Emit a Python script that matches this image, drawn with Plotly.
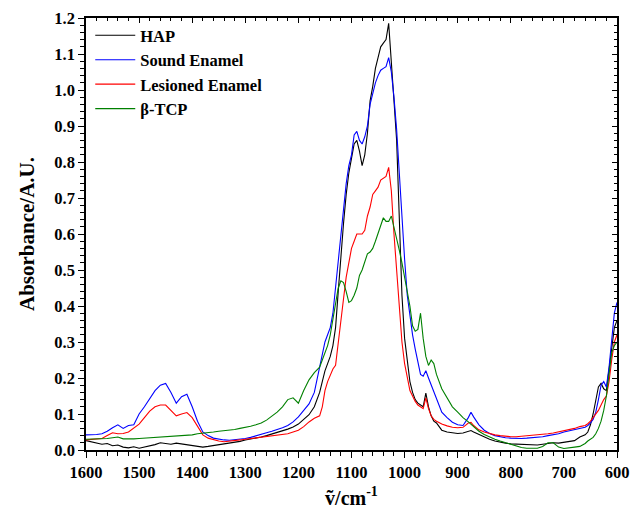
import plotly.graph_objects as go

# Wavenumbers (cm^-1), shared by all spectra
wavenumber = [
    1600, 1590, 1580, 1570, 1560, 1550, 1540, 1530, 1520, 1510,
    1500, 1490, 1480, 1470, 1460, 1450, 1440, 1430, 1420, 1410,
    1400, 1390, 1380, 1370, 1360, 1350, 1340, 1330, 1320, 1310,
    1300, 1290, 1280, 1270, 1260, 1250, 1240, 1230, 1220, 1210,
    1200, 1190, 1180, 1170,
    1160, 1155, 1150, 1145, 1140, 1135, 1130, 1125, 1120, 1115,
    1110, 1105, 1100, 1095, 1090, 1085, 1080, 1075, 1070, 1065,
    1060, 1055, 1050, 1045, 1040, 1035, 1030, 1025, 1020, 1015,
    1010, 1005, 1000, 995, 990, 985, 980, 975, 970, 965,
    960, 955, 950, 945,
    940, 930, 920, 910, 900, 890, 880, 875, 870, 860,
    850, 840, 830, 820, 810, 800, 790, 780, 770, 760,
    750, 740, 730, 720, 710, 700, 690, 680, 670,
    660, 655, 650, 645, 640, 635, 630, 625, 620, 615, 610, 605, 600,
]

hap = [
    0.026, 0.022, 0.018, 0.016, 0.018, 0.012, 0.014, 0.008, 0.006, 0.009,
    0.005, 0.008, 0.010, 0.015, 0.020, 0.018, 0.016, 0.019, 0.017, 0.015,
    0.013, 0.012, 0.008, 0.010, 0.012, 0.015, 0.017, 0.019, 0.022, 0.024,
    0.028, 0.030, 0.032, 0.036, 0.040, 0.044, 0.050, 0.054, 0.058, 0.064,
    0.072, 0.085, 0.098, 0.120,
    0.16, 0.19, 0.22, 0.24, 0.26, 0.29, 0.34, 0.44, 0.55, 0.63,
    0.71, 0.77, 0.81, 0.85, 0.86, 0.83, 0.79, 0.82, 0.88, 0.97,
    1.01, 1.06, 1.09, 1.12, 1.13, 1.14, 1.185, 1.09, 0.97, 0.86,
    0.66, 0.43, 0.31, 0.24, 0.19, 0.16, 0.14, 0.13, 0.125, 0.12,
    0.158, 0.12, 0.095, 0.08,
    0.075, 0.055, 0.050, 0.047, 0.046, 0.047, 0.052, 0.054, 0.050, 0.043,
    0.036, 0.030, 0.025, 0.021, 0.019, 0.017, 0.016, 0.016, 0.014, 0.015,
    0.014, 0.016, 0.018, 0.020, 0.019, 0.022, 0.023, 0.026, 0.036,
    0.042, 0.050, 0.070, 0.100, 0.140, 0.175, 0.185, 0.170, 0.165, 0.220, 0.290, 0.340, 0.360,
]

sound_enamel = [
    0.042, 0.042, 0.043, 0.045, 0.052, 0.062, 0.070, 0.060, 0.068, 0.070,
    0.100, 0.120, 0.143, 0.165, 0.180, 0.185, 0.160, 0.130, 0.148, 0.155,
    0.120, 0.080, 0.050, 0.040, 0.033, 0.030, 0.028, 0.027, 0.028, 0.030,
    0.032, 0.035, 0.040, 0.044, 0.048, 0.052, 0.056, 0.062, 0.068, 0.078,
    0.092, 0.110, 0.128, 0.160,
    0.23, 0.27, 0.30, 0.32, 0.34, 0.38, 0.45, 0.53, 0.60, 0.66,
    0.74, 0.79, 0.82, 0.875, 0.885, 0.86, 0.85, 0.87, 0.90, 0.96,
    0.99, 1.02, 1.04, 1.055, 1.06, 1.065, 1.09, 1.05, 0.98, 0.89,
    0.77, 0.64, 0.53, 0.43, 0.37, 0.32, 0.28, 0.245, 0.21, 0.205,
    0.22, 0.20, 0.18, 0.16,
    0.140, 0.105, 0.090, 0.077, 0.070, 0.068, 0.090, 0.105, 0.092, 0.070,
    0.055, 0.046, 0.040, 0.036, 0.034, 0.033, 0.032, 0.032, 0.033, 0.034,
    0.035, 0.037, 0.040, 0.042, 0.045, 0.050, 0.053, 0.057, 0.060,
    0.063, 0.068, 0.075, 0.085, 0.105, 0.140, 0.180, 0.190, 0.175, 0.230, 0.310, 0.380, 0.410,
]

lesioned_enamel = [
    0.028, 0.029, 0.030, 0.032, 0.040, 0.048, 0.045, 0.046, 0.050, 0.060,
    0.072, 0.090, 0.108, 0.120, 0.125, 0.125, 0.110, 0.095, 0.100, 0.104,
    0.090, 0.065, 0.042, 0.033, 0.028, 0.025, 0.023, 0.024, 0.026, 0.028,
    0.030, 0.032, 0.035, 0.037, 0.039, 0.040, 0.042, 0.045, 0.045, 0.050,
    0.055, 0.065, 0.078, 0.088,
    0.095, 0.12, 0.165, 0.19, 0.21, 0.225, 0.235, 0.30, 0.37, 0.42,
    0.48, 0.52, 0.56, 0.58, 0.60, 0.60, 0.60, 0.61, 0.65, 0.675,
    0.71, 0.72, 0.73, 0.75, 0.755, 0.76, 0.785, 0.72, 0.60, 0.50,
    0.39, 0.30, 0.24, 0.20, 0.165, 0.15, 0.135, 0.125, 0.12, 0.115,
    0.145, 0.115, 0.095, 0.085,
    0.080, 0.072, 0.067, 0.063, 0.062, 0.063, 0.075, 0.077, 0.068, 0.056,
    0.050, 0.045, 0.042, 0.040, 0.038, 0.037, 0.037, 0.038, 0.040, 0.040,
    0.042, 0.043, 0.045, 0.047, 0.050, 0.053, 0.056, 0.060, 0.065,
    0.068, 0.073, 0.080, 0.090, 0.100, 0.110, 0.125, 0.140, 0.150, 0.190, 0.250, 0.300, 0.320,
]

beta_tcp = [
    0.030, 0.030, 0.031, 0.030, 0.032, 0.034, 0.036, 0.031, 0.030, 0.031,
    0.032, 0.033, 0.033, 0.034, 0.035, 0.035, 0.036, 0.037, 0.038, 0.040,
    0.042, 0.045, 0.046, 0.048, 0.050, 0.052, 0.053, 0.055, 0.057, 0.060,
    0.062, 0.066, 0.070, 0.075, 0.083, 0.095, 0.105, 0.120, 0.140, 0.145,
    0.130, 0.165, 0.195, 0.215,
    0.23, 0.25, 0.27, 0.29, 0.32, 0.36, 0.41, 0.45, 0.47, 0.465,
    0.44, 0.41, 0.415, 0.43, 0.45, 0.485, 0.50, 0.52, 0.545, 0.55,
    0.56, 0.58, 0.60, 0.62, 0.645, 0.635, 0.635, 0.65, 0.62, 0.59,
    0.555, 0.52, 0.48, 0.44, 0.40, 0.345, 0.33, 0.335, 0.38, 0.31,
    0.26, 0.235, 0.25, 0.24,
    0.21, 0.17, 0.145, 0.12, 0.105, 0.09, 0.078, 0.072, 0.065, 0.052,
    0.043, 0.036, 0.030, 0.025, 0.020, 0.015, 0.010, 0.007, 0.005, 0.004,
    0.005, 0.010, 0.020, 0.020, 0.008, 0.004, 0.005, 0.008, 0.010,
    0.018, 0.025, 0.030, 0.035, 0.045, 0.060, 0.080, 0.110, 0.150, 0.210, 0.270, 0.290, 0.300,
]

series_names = ["HAP", "Sound Enamel", "Lesioned Enamel", "β-TCP"]
series_values = [hap, sound_enamel, lesioned_enamel, beta_tcp]
series_colors = ["#000000", "#0000ff", "#ff0000", "#008000"]

x_ticks = [1600, 1500, 1400, 1300, 1200, 1100, 1000, 900, 800, 700, 600]
y_ticks = [0.0, 0.1, 0.2, 0.3, 0.4, 0.5, 0.6, 0.7, 0.8, 0.9, 1.0, 1.1, 1.2]

FONT = "Liberation Serif"

fig = go.Figure()
for name, vals, col in zip(series_names, series_values, series_colors):
    assert len(vals) == len(wavenumber), name
    fig.add_trace(go.Scatter(x=wavenumber, y=vals, mode="lines", name=name,
                             line=dict(color=col, width=1.1)))

# empty trace that activates the mirrored (top/right) axes with inward ticks
fig.add_trace(go.Scatter(x=[None], y=[None], xaxis="x2", yaxis="y2",
                         showlegend=False, hoverinfo="skip"))

tickfont = dict(family=FONT, size=16.5, color="black", weight="bold")

fig.update_layout(
    width=634, height=513,
    margin=dict(l=78, r=25, t=10, b=71, autoexpand=False),
    paper_bgcolor="white", plot_bgcolor="white",
    font=dict(family=FONT, color="black"),
    showlegend=True,
    legend=dict(x=0.008, y=1.0, xanchor="left", yanchor="top",
                bgcolor="rgba(0,0,0,0)", borderwidth=0,
                font=dict(family=FONT, size=16.5, color="black", weight="bold"),
                tracegroupgap=0, itemwidth=40),
    xaxis=dict(range=[1600, 600], tickvals=x_ticks, ticktext=[str(v) for v in x_ticks],
               showgrid=False, zeroline=False, showline=True, linecolor="black", linewidth=1.5,
               ticks="outside", ticklen=6, tickwidth=1.2, tickcolor="black",
               minor=dict(dtick=20, ticks="outside", ticklen=4, tickwidth=1, tickcolor="black"),
               tickfont=tickfont, automargin=False,
               title=dict(text="ṽ/cm<sup>-1</sup>", font=dict(family=FONT, size=20, color="black", weight="bold"),
                          standoff=10)),
    yaxis=dict(range=[0, 1.2], tickvals=y_ticks, ticktext=[f"{v:.1f}" for v in y_ticks],
               showgrid=False, zeroline=False, showline=True, linecolor="black", linewidth=1.5,
               ticks="outside", ticklen=6, tickwidth=1.2, tickcolor="black",
               minor=dict(dtick=0.02, ticks="outside", ticklen=4, tickwidth=1, tickcolor="black"),
               tickfont=tickfont, automargin=False,
               title=dict(text="Absorbance/A.U.", font=dict(family=FONT, size=21, color="black", weight="bold"),
                          standoff=14)),
    xaxis2=dict(overlaying="x", side="top", range=[1600, 600], tickvals=x_ticks,
                showticklabels=False, showgrid=False, zeroline=False, showline=True,
                linecolor="black", linewidth=1.5, ticks="inside", ticklen=5, tickcolor="black",
                minor=dict(dtick=20, ticks="inside", ticklen=3, tickcolor="black"), automargin=False),
    yaxis2=dict(overlaying="y", side="right", range=[0, 1.2], tickvals=y_ticks,
                showticklabels=False, showgrid=False, zeroline=False, showline=True,
                linecolor="black", linewidth=1.5, ticks="inside", ticklen=5, tickcolor="black",
                minor=dict(dtick=0.02, ticks="inside", ticklen=3, tickcolor="black"), automargin=False),
)

fig.write_html("out.html")
